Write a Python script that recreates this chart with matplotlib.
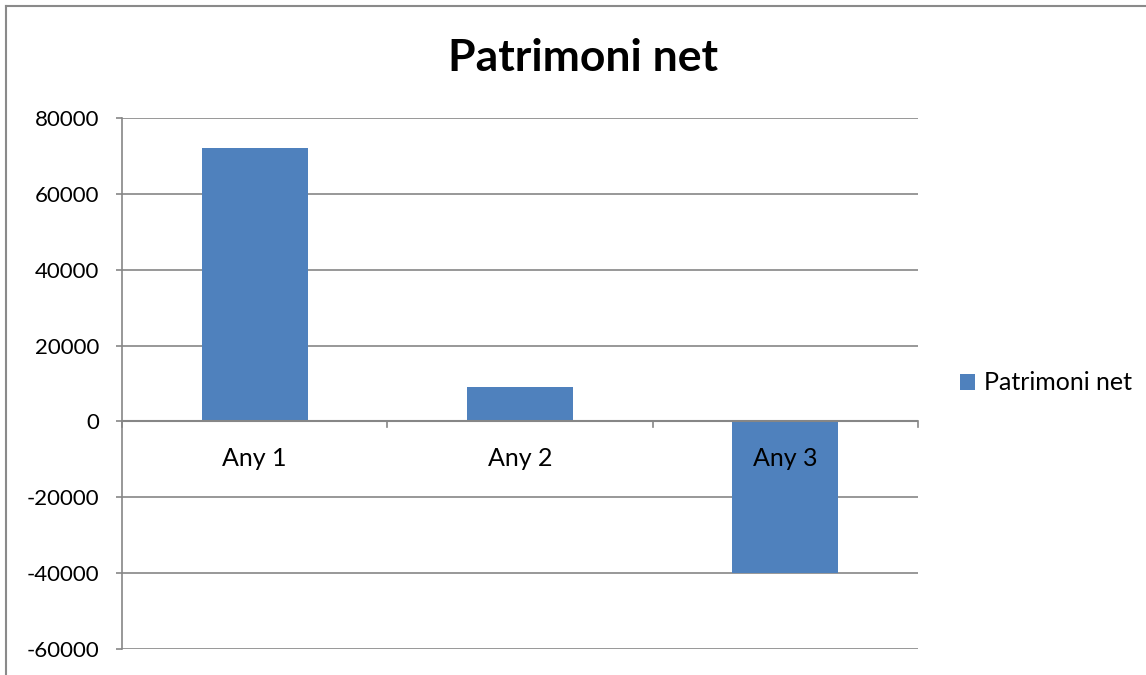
import matplotlib
matplotlib.use("Agg")
import matplotlib.pyplot as plt
from matplotlib.lines import Line2D
from matplotlib.patches import Patch

categories = ["Any 1", "Any 2", "Any 3"]
values = [72000, 9000, -40000]
yticks = [-60000, -40000, -20000, 0, 20000, 40000, 60000, 80000]
series_name = "Patrimoni net"
title = "Patrimoni net"

bar_color = "#4F81BD"
grid_color = "#868686"
font = ["Lato", "DejaVu Sans"]

fig = plt.figure(figsize=(11.46, 6.75), dpi=100)
W, H = 1146, 675
ax = fig.add_axes([122 / W, 1 - 649 / H, (918 - 122) / W, (649 - 118) / H])

x = list(range(len(categories)))
ax.bar(x, values, width=0.4, color=bar_color, zorder=3)
ax.set_xlim(-0.5, len(categories) - 0.5)
ax.set_ylim(yticks[0], yticks[-1])

ax.set_yticks(yticks)
ax.set_yticklabels([str(v) for v in yticks], family=font, fontsize=16)
ax.tick_params(axis="y", length=4.3, color=grid_color, width=1.2, pad=12)
ax.yaxis.grid(True, color=grid_color, linewidth=1.2, zorder=0)

ax.set_xticks([])
for s in ["top", "right", "bottom"]:
    ax.spines[s].set_visible(False)
ax.spines["left"].set_color(grid_color)
ax.spines["left"].set_linewidth(1.2)

# category axis at zero
ax.axhline(0, color=grid_color, linewidth=1.5, zorder=4)
for b in [i - 0.5 for i in range(len(categories) + 1)]:
    ax.plot([b, b], [0, -1600], color=grid_color, linewidth=1.2, zorder=4, clip_on=False)
for i, c in enumerate(categories):
    ax.text(i, -9750, c, ha="center", va="center",
            family=font, fontsize=18, zorder=5)

fig.text((447 + 718) / 2 / W, 1 - 58 / H, title, ha="center", va="center",
         family=font, fontsize=32, fontweight="bold")

handles = [Patch(facecolor=bar_color, edgecolor="none")]
fig.legend(handles, [series_name], loc="center left",
           bbox_to_anchor=(960 / W, 1 - 383 / H), frameon=False,
           prop={"family": font, "size": 18}, handlelength=0.6, handleheight=0.6,
           handletextpad=0.35, borderaxespad=0, borderpad=0)

# outer chart border (top and left)
fig.add_artist(Line2D([6 / W, 6 / W], [0, 1 - 6 / H], color="#8a8a8a", linewidth=1.5,
                      transform=fig.transFigure))
fig.add_artist(Line2D([6 / W, 1], [1 - 6 / H, 1 - 6 / H], color="#8a8a8a", linewidth=1.5,
                      transform=fig.transFigure))

fig.savefig("out.png", dpi=100)
